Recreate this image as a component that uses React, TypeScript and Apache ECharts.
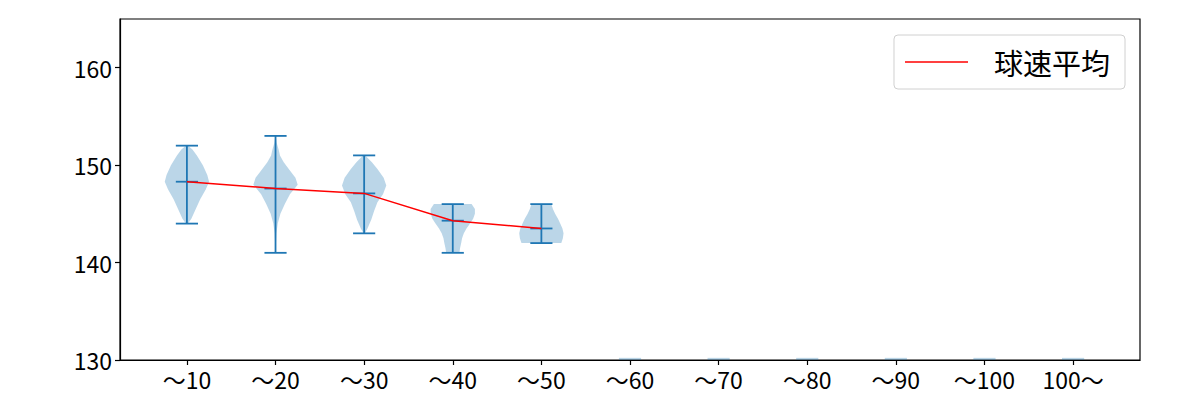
import React, { useEffect, useRef } from "react";
import * as echarts from "echarts";

const categories = ["～10", "～20", "～30", "～40", "～50", "～60", "～70", "～80", "～90", "～100", "100～"];
const meanSpeed = [148.3, 147.6, 147.1, 144.3, 143.5];
const minSpeed = [144, 141, 143, 141, 142];
const maxSpeed = [152, 153, 151, 146, 146];
const emptyGroups = [6, 7, 8, 9, 10, 11];

const v1Levels = [144, 144.5, 145.5, 146.5, 147.5, 148.3, 149, 150, 151, 151.6, 152];
const v1Widths = [0.05, 0.2, 0.4, 0.6, 0.85, 1.0, 0.92, 0.72, 0.45, 0.25, 0.05];
const v2Levels = [141, 142, 143, 144, 145, 146, 147, 148, 148.7, 149.3, 150.3, 151, 151.6, 152.3, 153];
const v2Widths = [0.01, 0.02, 0.04, 0.1, 0.22, 0.42, 0.65, 1.0, 0.9, 0.7, 0.37, 0.2, 0.14, 0.05, 0.01];
const v3Levels = [143, 143.5, 144.4, 145.3, 146.2, 147, 147.9, 148.7, 149.6, 150.3, 151];
const v3Widths = [0.03, 0.15, 0.32, 0.45, 0.6, 0.85, 1.0, 0.88, 0.6, 0.35, 0.05];
const v4Levels = [141, 141.5, 142, 142.5, 143, 143.5, 144, 144.5, 145, 145.5, 146];
const v4Widths = [0.3, 0.33, 0.38, 0.42, 0.5, 0.62, 0.78, 0.92, 1.0, 1.0, 0.85];
const v5Levels = [142, 142.5, 143, 143.5, 144, 144.5, 145, 145.5, 146];
const v5Widths = [0.9, 0.97, 1.0, 0.95, 0.85, 0.75, 0.62, 0.52, 0.45];

const violinLevels = [v1Levels, v2Levels, v3Levels, v4Levels, v5Levels];
const violinWidths = [v1Widths, v2Widths, v3Widths, v4Widths, v5Widths];

const yTicks = [130, 140, 150, 160];
const xTicks = [1, 2, 3, 4, 5, 6, 7, 8, 9, 10, 11];

const BLUE = "#1f77b4";
const FILL = "rgba(31,119,180,0.3)";
const HALF = 0.25;
const CAP = 0.125;
const FONT = "'Noto Sans CJK JP', 'Noto Sans', sans-serif";

export default function App() {
  const ref = useRef<HTMLDivElement>(null);
  useEffect(() => {
    const chart = echarts.init(ref.current!, null, { renderer: "svg" });
    const violinData = meanSpeed.map((m, i) => [i + 1, m, minSpeed[i], maxSpeed[i]]);
    chart.setOption({
      animation: false,
      textStyle: { fontFamily: FONT },
      grid: {
        left: 120,
        right: 60,
        top: 19,
        bottom: 40,
        show: true,
        borderColor: "#000",
        borderWidth: 1.2,
        backgroundColor: "transparent",
      },
      legend: {
        right: 75,
        top: 35,
        padding: [12, 15, 12, 11],
        itemWidth: 63,
        itemHeight: 14,
        borderColor: "#d0d0d0",
        borderWidth: 1,
        borderRadius: 4,
        textStyle: {
          fontSize: 29,
          lineHeight: 30,
          color: "#000",
          fontFamily: FONT,
          padding: [0, 0, 0, 21],
        },
        data: [{ name: "球速平均", icon: "path://M0,0 L63,0 L63,1.5 L0,1.5 Z" }],
      },
      xAxis: {
        type: "value",
        min: 0.245,
        max: 11.755,
        splitLine: { show: false },
        axisLine: { show: true, onZero: false, lineStyle: { color: "#000", width: 1.2 } },
        axisTick: { show: true, length: 5, customValues: xTicks, lineStyle: { color: "#000", width: 1.2 } },
        axisLabel: {
          customValues: xTicks,
          fontSize: 23,
          color: "#000",
          margin: 7,
          fontFamily: FONT,
          formatter: (v: number) => categories[Math.round(v) - 1] ?? "",
        },
      },
      yAxis: {
        type: "value",
        min: 130,
        max: 165,
        splitLine: { show: false },
        axisLine: { show: true, lineStyle: { color: "#000", width: 1.2 } },
        axisTick: { show: true, length: 5, customValues: yTicks, lineStyle: { color: "#000", width: 1.2 } },
        axisLabel: { customValues: yTicks, fontSize: 23, color: "#000", margin: 8, fontFamily: FONT },
      },
      series: [
        {
          type: "custom",
          name: "violin",
          clip: true,
          data: violinData,
          encode: { x: 0, y: [1, 2, 3] },
          renderItem: (params: any, api: any) => {
            const i = params.dataIndex;
            const x = api.value(0);
            const mean = api.value(1);
            const lo = api.value(2);
            const hi = api.value(3);
            const lv = violinLevels[i];
            const wd = violinWidths[i];
            const pts: number[][] = [];
            for (let k = 0; k < lv.length; k++) pts.push(api.coord([x - HALF * wd[k], lv[k]]));
            for (let k = lv.length - 1; k >= 0; k--) pts.push(api.coord([x + HALF * wd[k], lv[k]]));
            const seg = (a: number[], b: number[]) => ({
              type: "line",
              shape: { x1: a[0], y1: a[1], x2: b[0], y2: b[1] },
              style: { stroke: BLUE, lineWidth: 1.8 },
            });
            return {
              type: "group",
              children: [
                { type: "polygon", shape: { points: pts }, style: { fill: FILL, stroke: "none" } },
                seg(api.coord([x, lo]), api.coord([x, hi])),
                seg(api.coord([x - CAP, lo]), api.coord([x + CAP, lo])),
                seg(api.coord([x - CAP, hi]), api.coord([x + CAP, hi])),
                seg(api.coord([x - CAP, mean]), api.coord([x + CAP, mean])),
              ],
            };
          },
          z: 2,
        },
        {
          type: "custom",
          name: "empty",
          clip: true,
          data: emptyGroups.map((g) => [g, 130]),
          encode: { x: 0, y: 1 },
          renderItem: (params: any, api: any) => {
            const x = api.value(0);
            const a = api.coord([x - CAP, 130.22]);
            const b = api.coord([x + CAP, 130]);
            return {
              type: "rect",
              shape: { x: a[0], y: a[1], width: b[0] - a[0], height: b[1] - a[1] },
              style: { fill: FILL },
            };
          },
          z: 1,
        },
        {
          type: "line",
          name: "球速平均",
          data: meanSpeed.map((m, i) => [i + 1, m]),
          symbol: "none",
          lineStyle: { color: "#ff0000", width: 1.5 },
          itemStyle: { color: "#ff0000" },
          z: 3,
        },
      ],
    });
    return () => chart.dispose();
  }, []);
  return (
    <div
      ref={ref}
      style={{ position: "fixed", left: 0, top: 0, width: 1200, height: 400, background: "#fff" }}
    />
  );
}
